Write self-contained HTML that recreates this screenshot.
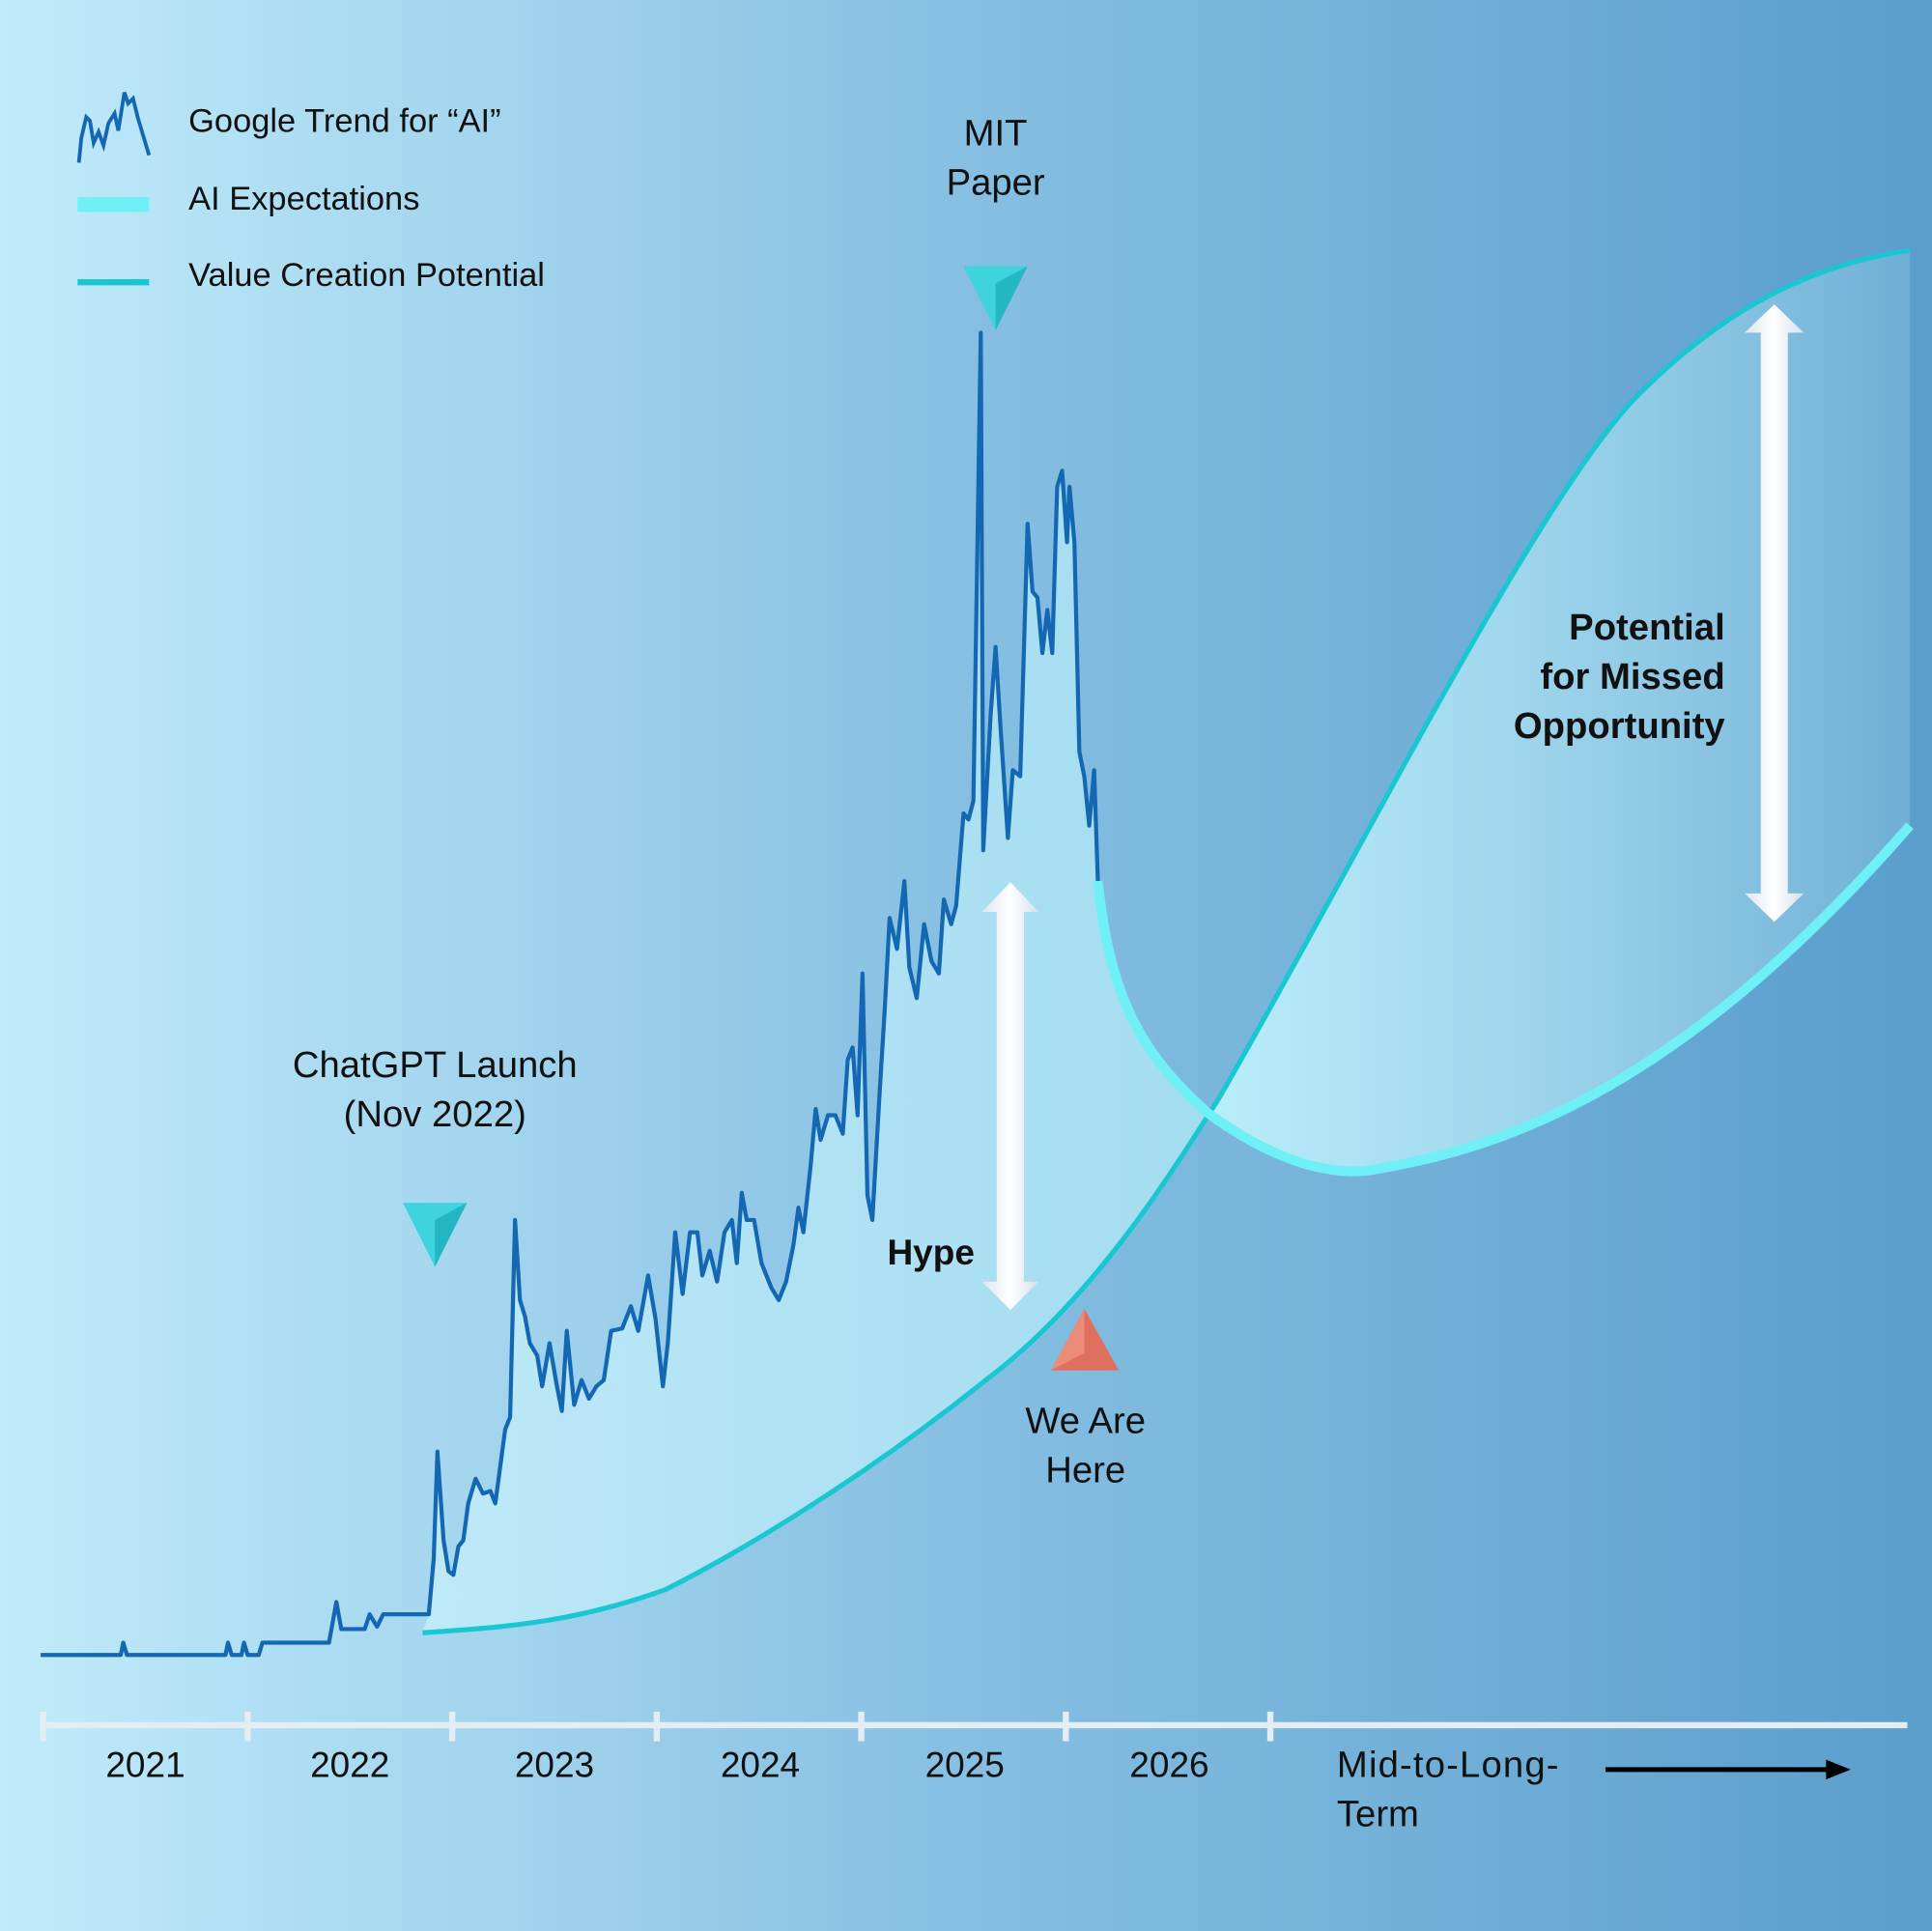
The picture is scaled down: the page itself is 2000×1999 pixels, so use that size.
<!DOCTYPE html>
<html><head><meta charset="utf-8"><style>html,body{margin:0;padding:0;}svg{display:block;}text{font-family:"Liberation Sans",sans-serif;}</style></head>
<body>
<svg width="2000" height="1999" viewBox="0 0 1568 1567" xmlns="http://www.w3.org/2000/svg" preserveAspectRatio="none">
<defs>
<linearGradient id="bg" x1="0" x2="1" y1="0" y2="0">
<stop offset="0" stop-color="#c0ebfa"/><stop offset="0.5" stop-color="#86bfe2"/><stop offset="1" stop-color="#5a9ecc"/></linearGradient>
<linearGradient id="f1" x1="0" x2="1" y1="0" y2="0">
<stop offset="0" stop-color="#c8f1fb" stop-opacity="0.7"/><stop offset="1" stop-color="#aee6f5" stop-opacity="0.8"/></linearGradient>
<linearGradient id="f2" x1="0" x2="1" y1="0" y2="0">
<stop offset="0" stop-color="#bdf0fb" stop-opacity="0.95"/><stop offset="1" stop-color="#bdeefa" stop-opacity="0.2"/></linearGradient>
<linearGradient id="ar" x1="0" x2="1"><stop offset="0" stop-color="#dfe6ee"/><stop offset="0.5" stop-color="#ffffff"/><stop offset="1" stop-color="#d5dfe9"/></linearGradient>
</defs>
<rect width="1568" height="1567" fill="url(#bg)"/>
<!-- fill under trend -->
<path d="M343,1325 L348,1310 352,1265 355,1178 360,1250 364,1275 368,1278 372,1255 376,1250 380,1220 386,1200 392,1212 398,1210 402,1220 406,1190 410,1160 414,1150 418,990 422,1055 426,1068 430,1090 436,1100 440,1125 446,1090 452,1125 456,1145 460,1080 466,1140 472,1120 478,1135 484,1125 490,1120 496,1080 505,1078 512,1060 518,1080 526,1035 532,1070 538,1125 542,1090 548,1000 554,1050 560,1000 566,1000 570,1035 576,1015 582,1040 588,1000 594,990 598,1025 602,968 606,990 612,990 618,1025 626,1045 632,1055 638,1040 644,1010 648,980 652,1000 658,945 662,900 666,925 672,905 678,905 684,920 688,860 692,850 696,905 700,790 704,970 708,990 714,885 718,820 722,745 728,770 734,715 738,785 744,810 750,750 756,780 762,790 766,730 772,750 776,735 782,660 786,665 790,650 796,270 798,690 804,580 808,525 812,590 818,680 822,625 828,630 834,425 838,480 842,485 846,530 850,495 854,530 858,395 862,382 866,440 868,395 872,440 876,610 880,630 884,670 888,625 891,715 C900,800 920,850 980,903 L990,890 C940,970 880,1060 800,1120 C700,1200 600,1260 540,1290 C470,1315 420,1320 343,1325 Z" fill="url(#f1)"/>
<!-- fill right -->
<path d="M990,890 C1100,700 1250,400 1330,320 C1400,250 1470,215 1550,203 L1550,670 C1350,900 1200,935 1110,950 C1060,955 1010,925 980,903 Z" fill="url(#f2)"/>
<!-- value curve -->
<path d="M343,1325 C420,1320 470,1315 540,1290 C600,1260 700,1200 800,1120 C880,1060 940,970 990,890 C1100,700 1250,400 1330,320 C1400,250 1470,215 1550,203" fill="none" stroke="#19c7d2" stroke-width="4"/>
<!-- expectations -->
<path d="M891,715 C900,800 920,850 980,903 C1010,925 1060,955 1110,950 C1200,935 1350,900 1550,670" fill="none" stroke="#6ff0f7" stroke-width="8"/>
<!-- trend -->
<polyline fill="none" stroke="#1467b3" stroke-width="3.3" stroke-linejoin="round" points="33,1343 98,1343 100,1333 103,1343 183,1343 185,1333 188,1343 196,1343 198,1333 201,1343 210,1343 213,1333 267,1333 273,1300 277,1322 296,1322 300,1310 306,1320 311,1310 348,1310 352,1265 355,1178 360,1250 364,1275 368,1278 372,1255 376,1250 380,1220 386,1200 392,1212 398,1210 402,1220 406,1190 410,1160 414,1150 418,990 422,1055 426,1068 430,1090 436,1100 440,1125 446,1090 452,1125 456,1145 460,1080 466,1140 472,1120 478,1135 484,1125 490,1120 496,1080 505,1078 512,1060 518,1080 526,1035 532,1070 538,1125 542,1090 548,1000 554,1050 560,1000 566,1000 570,1035 576,1015 582,1040 588,1000 594,990 598,1025 602,968 606,990 612,990 618,1025 626,1045 632,1055 638,1040 644,1010 648,980 652,1000 658,945 662,900 666,925 672,905 678,905 684,920 688,860 692,850 696,905 700,790 704,970 708,990 714,885 718,820 722,745 728,770 734,715 738,785 744,810 750,750 756,780 762,790 766,730 772,750 776,735 782,660 786,665 790,650 796,270 798,690 804,580 808,525 812,590 818,680 822,625 828,630 834,425 838,480 842,485 846,530 850,495 854,530 858,395 862,382 866,440 868,395 872,440 876,610 880,630 884,670 888,625 891,715"/>
<!-- arrows -->
<g fill="url(#ar)">
<path d="M820,716 L843,740 L831,740 L831,1040 L843,1040 L820,1063 L797,1040 L809,1040 L809,740 L797,740 Z"/>
<path d="M1440,247 L1464,270 L1451,270 L1451,725 L1464,725 L1440,748 L1416,725 L1429,725 L1429,270 L1416,270 Z"/>
</g>
<!-- triangles -->
<path d="M327,976 L379,976 L353,1028 Z" fill="#3fd3de"/><path d="M353,990 L379,976 L353,1028 Z" fill="#25b6c4"/>
<path d="M782,216 L834,216 L808,268 Z" fill="#3fd3de"/><path d="M808,230 L834,216 L808,268 Z" fill="#25b6c4"/>
<path d="M880,1062 L908,1112 L853,1112 Z" fill="#e0705e"/><path d="M880,1062 L880,1098 L853,1112 Z" fill="#ec8c78"/>
<!-- axis -->
<g stroke="#e3edf3" stroke-width="5"><line x1="33" y1="1400" x2="1548" y2="1400"/>
<line x1="35" y1="1389" x2="35" y2="1413"/><line x1="201" y1="1389" x2="201" y2="1413"/><line x1="367" y1="1389" x2="367" y2="1413"/><line x1="533" y1="1389" x2="533" y2="1413"/><line x1="699" y1="1389" x2="699" y2="1413"/><line x1="865" y1="1389" x2="865" y2="1413"/><line x1="1031" y1="1389" x2="1031" y2="1413"/></g>
<g font-size="29" fill="#111" text-anchor="middle">
<text x="118" y="1442">2021</text><text x="284" y="1442">2022</text><text x="450" y="1442">2023</text><text x="617" y="1442">2024</text><text x="783" y="1442">2025</text><text x="949" y="1442">2026</text>
</g>
<text x="1085" y="1442" font-size="30" fill="#111" textLength="180">Mid-to-Long-</text>
<text x="1085" y="1482" font-size="30" fill="#111">Term</text>
<line x1="1303" y1="1436" x2="1485" y2="1436" stroke="#000" stroke-width="4"/><path d="M1482,1428 L1502,1436 L1482,1444 Z" fill="#000"/>
<!-- labels -->
<g font-size="30" fill="#111" text-anchor="middle">
<text x="353" y="874">ChatGPT Launch</text><text x="353" y="914">(Nov 2022)</text>
<text x="808" y="118">MIT</text><text x="808" y="158">Paper</text>
<text x="881" y="1163">We Are</text><text x="881" y="1203">Here</text>
</g>
<text x="791" y="1026" font-size="29" font-weight="bold" fill="#111" text-anchor="end">Hype</text>
<g font-size="30" font-weight="bold" fill="#111" text-anchor="end">
<text x="1400" y="519">Potential</text><text x="1400" y="559">for Missed</text><text x="1400" y="599">Opportunity</text></g>
<!-- legend -->
<polyline fill="none" stroke="#1467b3" stroke-width="3" points="64,132 66,112 70,95 73,98 76,116 80,107 84,118 88,100 93,92 96,106 101,75 104,84 108,80 112,96 121,126"/>
<line x1="63" y1="166" x2="121" y2="166" stroke="#6ff0f7" stroke-width="12"/>
<line x1="63" y1="229" x2="121" y2="229" stroke="#19c7d2" stroke-width="5"/>
<g font-size="27" fill="#111">
<text x="153" y="107">Google Trend for “AI”</text>
<text x="153" y="170">AI Expectations</text>
<text x="153" y="232">Value Creation Potential</text></g>
</svg>
</body></html>
